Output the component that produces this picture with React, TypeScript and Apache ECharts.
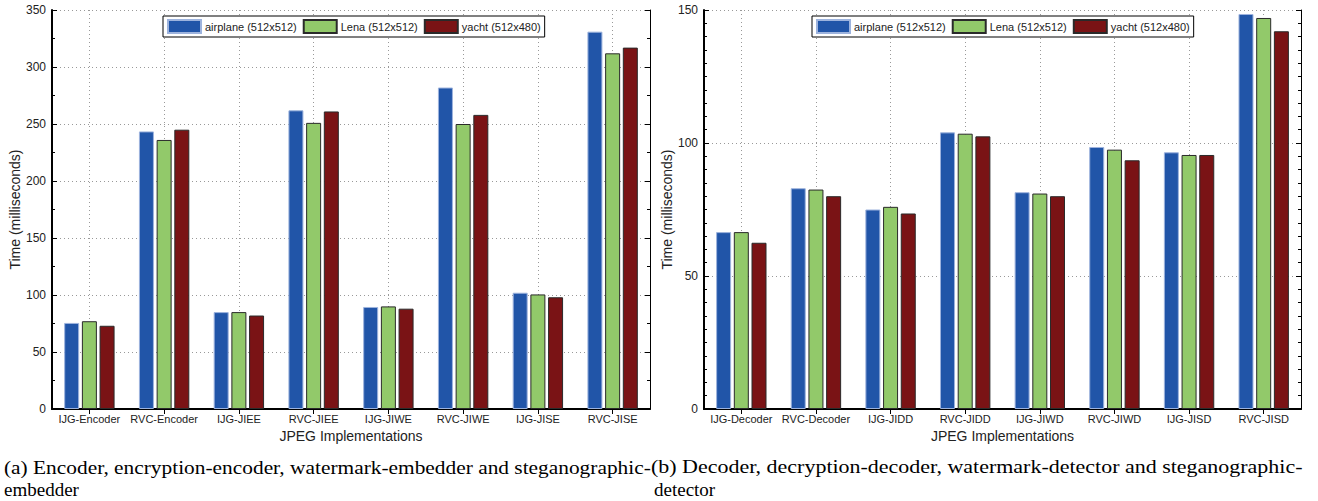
import React, { useEffect, useRef } from "react";
import * as echarts from "echarts";

const categoriesA = ["IJG-Encoder", "RVC-Encoder", "IJG-JIEE", "RVC-JIEE", "IJG-JIWE", "RVC-JIWE", "IJG-JISE", "RVC-JISE"];
const categoriesB = ["IJG-Decoder", "RVC-Decoder", "IJG-JIDD", "RVC-JIDD", "IJG-JIWD", "RVC-JIWD", "IJG-JISD", "RVC-JISD"];

const seriesNames = ["airplane (512x512)", "Lena (512x512)", "yacht (512x480)"];

const airplaneA = [75.5, 243.5, 85, 262, 89.5, 282, 102, 331];
const lenaA = [77, 236, 85, 251, 90, 250, 100.5, 312];
const yachtA = [73, 245, 82, 261, 88, 258, 98, 317];

const airplaneB = [66.5, 83, 75, 104, 81.5, 98.5, 96.5, 148.5];
const lenaB = [66.5, 82.5, 76, 103.5, 81, 97.5, 95.5, 147];
const yachtB = [62.5, 80, 73.5, 102.5, 80, 93.5, 95.5, 142];

const yTicksA = { min: 0, max: 350, interval: 50, minorSplit: 2 };
const yTicksB = { min: 0, max: 150, interval: 50, minorSplit: 10 };

const captionA1 = "(a) Encoder, encryption-encoder, watermark-embedder and steganographic-";
const captionA2 = "embedder";
const captionB1 = "(b) Decoder, decryption-decoder, watermark-detector and steganographic-";
const captionB2 = "detector";

const colors = ["#2155a8", "#92c96a", "#7a1315"];
const borders = ["#9db3dd", "#2a2a2a", "#2a2a2a"];

const SANS = "Liberation Sans";
const SERIF = "Liberation Serif";

function measure(text: string, font: string): number {
  const c = document.createElement("canvas");
  const ctx = c.getContext("2d");
  if (!ctx) return text.length * 8;
  ctx.font = font;
  return ctx.measureText(text).width;
}

function captionText(text: string, x: number, y: number, targetWidth: number | null, size: number) {
  const font = `${size}px "${SERIF}"`;
  let scaleX = 1;
  if (targetWidth) {
    const w = measure(text, font);
    if (w > 0) scaleX = targetWidth / w;
  }
  return {
    type: "text",
    x,
    y,
    scaleX,
    style: { text, fontFamily: SERIF, fontSize: size, fill: "#000", textVerticalAlign: "middle" },
  };
}

export default function App() {
  const ref = useRef<HTMLDivElement>(null);

  useEffect(() => {
    if (!ref.current) return;
    const chart = echarts.init(ref.current, undefined, { renderer: "svg" });

    const grids = [
      { left: 52, top: 10, width: 598, height: 399 },
      { left: 704, top: 10, width: 597, height: 399 },
    ];

    const catAxis = (data: string[], gridIndex: number, bottom: boolean) => ({
      type: "category",
      gridIndex,
      data,
      position: bottom ? "bottom" : "top",
      boundaryGap: true,
      name: bottom ? "JPEG Implementations" : "",
      nameLocation: "middle",
      nameGap: 19,
      nameTextStyle: { fontFamily: SANS, fontSize: 14, color: "#222" },
      axisLine: { show: true, lineStyle: { color: "#000", width: bottom ? 2 : 1 } },
      axisTick: { show: true, inside: true, alignWithLabel: true, length: 5, interval: 0, lineStyle: { color: "#000" } },
      axisLabel: { show: bottom, interval: 0, fontFamily: SANS, fontSize: 11, color: "#222", margin: 4 },
      splitLine: bottom
        ? { show: true, alignWithLabel: true, interval: 0, lineStyle: { color: "#999", type: [1, 3], width: 1 } }
        : { show: false },
    });

    const valAxis = (t: any, gridIndex: number, left: boolean) => ({
      type: "value",
      gridIndex,
      min: t.min,
      max: t.max,
      interval: t.interval,
      position: left ? "left" : "right",
      name: left ? "Time (milliseconds)" : "",
      nameLocation: "middle",
      nameGap: 30,
      nameTextStyle: { fontFamily: SANS, fontSize: 14, color: "#222" },
      axisLine: { show: true, lineStyle: { color: "#000", width: left ? 2 : 1 } },
      axisTick: { show: true, inside: true, length: 5, lineStyle: { color: "#000" } },
      minorTick: { show: true, splitNumber: t.minorSplit, length: 3, lineStyle: { color: "#000" } },
      axisLabel: { show: left, fontFamily: SANS, fontSize: 12, color: "#222", margin: 6 },
      splitLine: left ? { show: true, lineStyle: { color: "#999", type: [1, 3], width: 1 } } : { show: false },
    });

    const mkSeries = (arrs: number[][], axisIdx: number) =>
      arrs.map((d, i) => ({
        type: "bar",
        name: seriesNames[i],
        xAxisIndex: axisIdx,
        yAxisIndex: axisIdx,
        data: d,
        barWidth: 15,
        barGap: "18%",
        z: 3,
        itemStyle: { color: colors[i], borderColor: borders[i], borderWidth: 1 },
      }));

    const legendBase = {
      data: seriesNames,
      orient: "horizontal",
      top: 16,
      itemWidth: 33,
      itemHeight: 13,
      itemGap: 6,
      padding: [3, 4, 3, 4],
      borderColor: "#000",
      borderWidth: 1,
      backgroundColor: "#fff",
      selectedMode: false,
      icon: "rect",
      textStyle: { fontFamily: SANS, fontSize: 11, color: "#222", padding: [0, 0, 0, -1] },
    };

    const option: any = {
      animation: false,
      backgroundColor: "#fff",
      grid: grids.map((g) => ({ ...g, show: false, containLabel: false })),
      xAxis: [
        catAxis(categoriesA, 0, true),
        catAxis(categoriesA, 0, false),
        catAxis(categoriesB, 1, true),
        catAxis(categoriesB, 1, false),
      ],
      yAxis: [
        valAxis(yTicksA, 0, true),
        valAxis(yTicksA, 0, false),
        valAxis(yTicksB, 1, true),
        valAxis(yTicksB, 1, false),
      ],
      legend: [
        { ...legendBase, left: 163 },
        { ...legendBase, left: 812 },
      ],
      series: [...mkSeries([airplaneA, lenaA, yachtA], 0), ...mkSeries([airplaneB, lenaB, yachtB], 2)],
      graphic: [
        captionText(captionA1, 4, 467, 647, 19),
        captionText(captionA2, 4, 489, null, 19),
        captionText(captionB1, 651, 467, 652, 19),
        captionText(captionB2, 654, 489, null, 19),
      ],
    };

    chart.setOption(option);
    return () => chart.dispose();
  }, []);

  return <div ref={ref} style={{ position: "absolute", left: 0, top: 0, width: 1318, height: 501 }} />;
}
